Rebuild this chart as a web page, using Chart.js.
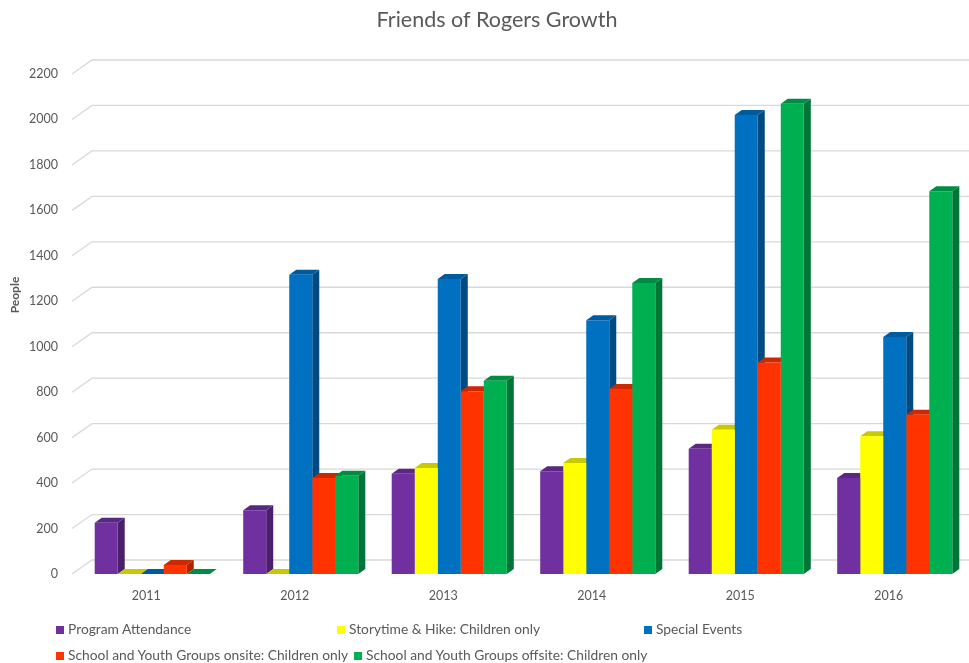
<!DOCTYPE html>
<html>
<head>
<meta charset="utf-8">
<script src="https://cdn.jsdelivr.net/npm/chart.js@4.4.1/dist/chart.umd.min.js"></script>
<style>
  body { margin: 0; background: #fff; }
  #wrap { position: relative; width: 969px; height: 663px; }
  #legend { position: absolute; left: 0; top: 0; font-family: Lato, sans-serif; font-size: 13.8px; color: #595959; }
  .item { position: absolute; white-space: nowrap; line-height: 14px; }
  .box { display: inline-block; width: 8px; height: 8px; margin-right: 4px; vertical-align: 0px; }
</style>
</head>
<body>
<div id="wrap">
  <canvas id="myChart" width="969" height="663"></canvas>
  <div id="legend"></div>
</div>
<script>
const years = ['2011', '2012', '2013', '2014', '2015', '2016'];
const programAttendance = [225, 280, 441, 452, 551, 422];
const storytimeHike = [0, 0, 466, 488, 635, 606];
const specialEvents = [0, 1317, 1298, 1116, 2020, 1043];
const schoolOnsite = [40, 422, 804, 814, 931, 701];
const schoolOffsite = [0, 432, 850, 1280, 2069, 1684];

const seriesNames = [
    'Program Attendance',
    'Storytime & Hike: Children only',
    'Special Events',
    'School and Youth Groups onsite: Children only',
    'School and Youth Groups offsite: Children only'
];
const seriesData = [programAttendance, storytimeHike, specialEvents, schoolOnsite, schoolOffsite];
const frontColors = ['#7030A0', '#FFFF00', '#0070C0', '#FF3300', '#00B050'];
const sideColors = ['#4A1F6B', '#A8A800', '#004A82', '#B02300', '#007538'];
const topColors = ['#5A2785', '#C9C900', '#005A9E', '#CC2900', '#008C42'];

// legend positions (x, y) in the picture
const legendPos = [[56, 622], [337, 622], [644, 622], [56, 648], [354, 648]];

const barDx = 7, barDy = 5;     // bar depth
const wallDx = 20, wallDy = 14; // back wall offset

const fake3d = {
    id: 'fake3d',
    beforeDatasetsDraw(chart) {
        const ctx = chart.ctx;
        const area = chart.chartArea;
        const y = chart.scales.y;
        const x0 = area.left - 6;

        // back wall grid lines
        ctx.save();
        ctx.strokeStyle = '#d9d9d9';
        ctx.lineWidth = 1.3;
        y.ticks.forEach(t => {
            const py = y.getPixelForValue(t.value);
            ctx.beginPath();
            ctx.moveTo(x0, py);
            ctx.lineTo(x0 + wallDx, py - wallDy);
            ctx.lineTo(chart.width, py - wallDy);
            ctx.stroke();
        });

        // side faces, then top faces
        const metas = chart.data.datasets.map((d, i) => chart.getDatasetMeta(i));
        metas.forEach((meta, i) => {
            meta.data.forEach(bar => {
                const r = bar.x + bar.width / 2;
                ctx.fillStyle = sideColors[i];
                ctx.beginPath();
                ctx.moveTo(r, bar.y);
                ctx.lineTo(r + barDx, bar.y - barDy);
                ctx.lineTo(r + barDx, bar.base - barDy);
                ctx.lineTo(r, bar.base);
                ctx.closePath();
                ctx.fill();
            });
        });
        metas.forEach((meta, i) => {
            meta.data.forEach(bar => {
                const l = bar.x - bar.width / 2;
                const r = bar.x + bar.width / 2;
                ctx.fillStyle = topColors[i];
                ctx.beginPath();
                ctx.moveTo(l, bar.y);
                ctx.lineTo(r, bar.y);
                ctx.lineTo(r + barDx, bar.y - barDy);
                ctx.lineTo(l + barDx, bar.y - barDy);
                ctx.closePath();
                ctx.fill();
            });
        });
        ctx.restore();
    },
    afterDraw(chart) {
        const ctx = chart.ctx;
        ctx.save();
        ctx.fillStyle = '#595959';
        ctx.textAlign = 'center';
        ctx.textBaseline = 'middle';
        ctx.font = '21.5px Lato';
        ctx.fillText('Friends of Rogers Growth', 497, 20);
        ctx.translate(15, 295);
        ctx.rotate(-Math.PI / 2);
        ctx.font = 'bold 12px Lato';
        ctx.fillText('People', 0, 0);
        ctx.restore();
    }
};

const ctx = document.getElementById('myChart').getContext('2d');
const myChart = new Chart(ctx, {
    type: 'bar',
    data: {
        labels: years,
        datasets: seriesData.map((vals, i) => ({
            label: seriesNames[i],
            data: vals,
            backgroundColor: frontColors[i],
            borderWidth: 0,
            barPercentage: 1.0,
            categoryPercentage: 0.775
        }))
    },
    options: {
        responsive: false,
        animation: false,
        layout: {
            padding: { left: 0, right: 0, top: 74, bottom: 46 }
        },
        plugins: {
            legend: { display: false },
            tooltip: { enabled: false },
            title: { display: false }
        },
        scales: {
            x: {
                grid: { display: false, drawTicks: false },
                border: { display: false },
                ticks: {
                    color: '#595959',
                    font: { family: 'Lato', size: 12.5 },
                    padding: 14,
                    labelOffset: -6
                }
            },
            y: {
                min: 0,
                max: 2200,
                afterFit(scale) { scale.width = 78; },
                grid: { display: false, drawTicks: false },
                border: { display: false },
                ticks: {
                    stepSize: 200,
                    color: '#595959',
                    font: { family: 'Lato', size: 12.5 },
                    padding: 20,
                    callback: v => String(v)
                }
            }
        }
    },
    plugins: [fake3d]
});

const legend = document.getElementById('legend');
seriesNames.forEach((name, i) => {
    const el = document.createElement('div');
    el.className = 'item';
    el.style.left = legendPos[i][0] + 'px';
    el.style.top = legendPos[i][1] + 'px';
    el.innerHTML = '<span class="box" style="background:' + frontColors[i] + '"></span>';
    el.appendChild(document.createTextNode(name));
    legend.appendChild(el);
});
</script>
</body>
</html>
